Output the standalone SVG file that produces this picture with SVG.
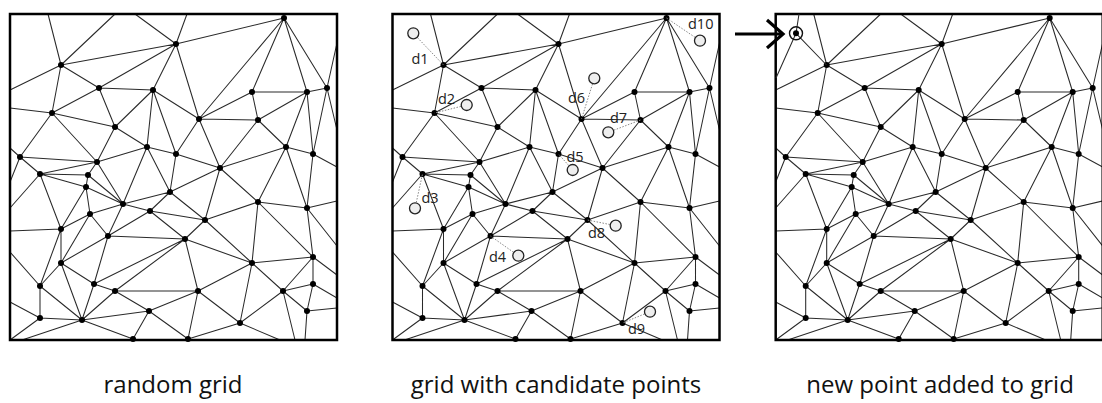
<svg xmlns="http://www.w3.org/2000/svg" width="1102" height="403" viewBox="0 0 1102 403">
<style>
.e{fill:none;stroke:#2a2a2a;stroke-width:1.05}
.fr{fill:none;stroke:#000;stroke-width:2.5}
.dt{fill:#000}
.cand{fill:#eee;stroke:#222;stroke-width:1.3}
.dot{stroke:#888;stroke-width:1;stroke-dasharray:1.5 1.5;fill:none}
.lb{font-family:"Open Sans","Liberation Sans",sans-serif;font-size:14.5px;fill:#222}
.cap{font-family:"Open Sans","Liberation Sans",sans-serif;font-size:24px;fill:#111;text-anchor:middle}
</style>
<defs>
<g id="grid">
<path class="e" d="M61 65L48 14M61 65L115 14M176 44L135 14M176 44L187 14M176 44L61 65M61 65L99 88M61 65L52 113M61 65L10 90M99 88L176 44M99 88L153 90M99 88L52 113M99 88L115 127M153 90L176 44M153 90L115 127M153 90L147 147M153 90L176 154M153 90L199 119M52 113L10 108M52 113L115 127M52 113L20 157M52 113L97 162M115 127L147 147M115 127L97 162M147 147L176 154M147 147L97 162M20 157L97 162M20 157L40 174M40 174L88 175M40 174L97 162M88 175L97 162M147 147L170 192M147 147L123 204M97 162L123 204M176 154L170 192M176 154L199 119M176 154L220 168M20 157L10 148M20 157L10 182M40 174L10 208M40 174L61 229M40 174L86 187M88 175L86 187M88 175L123 204M86 187L123 204M61 229L10 231M40 286L10 252M40 318L10 302M40 318L10 340M82 320L22 340M40 286L40 318M40 286L61 229M40 286L61 263M40 286L82 320M40 318L82 320M61 263L61 229M61 263L82 320M61 263L94 284M61 263L108 236M61 263L90 214M61 229L90 214M90 214L86 187M90 214L123 204M90 214L108 236M86 187L61 229M123 204L108 236M123 204L150 211M123 204L170 192M150 211L170 192M108 236L185 239M108 236L150 211M94 284L108 236M94 284L115 291M94 284L82 320M94 284L185 239M115 291L198 291M115 291L185 239M149 311L115 291M149 311L82 320M149 311L133 339M149 311L198 291M149 311L188 339M82 320L133 339M82 320L115 291M170 192L205 220M205 220L185 239M205 220L258 202M205 220L252 263M205 220L220 168M205 220L150 211M185 239L252 263M185 239L198 291M258 202L252 263M258 202L307 208M258 202L313 257M258 202L286 147M258 202L220 168M307 208L286 147M307 208L313 154M307 208L337 201M307 208L313 257M307 208L337 246M313 257L252 263M313 257L283 291M313 257L313 284M313 257L337 275M252 263L198 291M252 263L283 291M252 263L240 323M198 291L240 323M198 291L188 339M283 291L313 284M283 291L307 311M283 291L240 323M283 291L295 340M313 284L307 311M313 284L337 298M307 311L337 308M307 311L305 340M240 323L188 339M240 323L280 340M150 211L185 239M220 168L170 192M176 44L284 18M176 44L199 119M284 18L199 119M284 18L252 92M284 18L307 92M284 18L327 88M327 88L337 43M252 92L307 92M252 92L199 119M252 92L258 120M307 92L327 88M307 92L258 120M307 92L286 147M307 92L313 154M327 88L313 154M199 119L258 120M199 119L220 168M258 120L286 147M258 120L220 168M286 147L313 154M286 147L220 168M313 154L337 167M327 88L337 130"/>
<g class="dt">
<circle cx="284" cy="18" r="3"/><circle cx="176" cy="44" r="3"/><circle cx="61" cy="65" r="3"/><circle cx="99" cy="88" r="3"/><circle cx="153" cy="90" r="3"/><circle cx="252" cy="92" r="3"/><circle cx="307" cy="92" r="3"/><circle cx="327" cy="88" r="3"/><circle cx="52" cy="113" r="3"/><circle cx="199" cy="119" r="3"/><circle cx="258" cy="120" r="3"/><circle cx="115" cy="127" r="3"/><circle cx="147" cy="147" r="3"/><circle cx="286" cy="147" r="3"/><circle cx="176" cy="154" r="3"/><circle cx="313" cy="154" r="3"/><circle cx="20" cy="157" r="3"/><circle cx="97" cy="162" r="3"/><circle cx="220" cy="168" r="3"/><circle cx="40" cy="174" r="3"/><circle cx="88" cy="175" r="3"/><circle cx="86" cy="187" r="3"/><circle cx="170" cy="192" r="3"/><circle cx="258" cy="202" r="3"/><circle cx="123" cy="204" r="3"/><circle cx="307" cy="208" r="3"/><circle cx="150" cy="211" r="3"/><circle cx="90" cy="214" r="3"/><circle cx="205" cy="220" r="3"/><circle cx="61" cy="229" r="3"/><circle cx="108" cy="236" r="3"/><circle cx="185" cy="239" r="3"/><circle cx="313" cy="257" r="3"/><circle cx="61" cy="263" r="3"/><circle cx="252" cy="263" r="3"/><circle cx="94" cy="284" r="3"/><circle cx="313" cy="284" r="3"/><circle cx="40" cy="286" r="3"/><circle cx="115" cy="291" r="3"/><circle cx="198" cy="291" r="3"/><circle cx="283" cy="291" r="3"/><circle cx="149" cy="311" r="3"/><circle cx="307" cy="311" r="3"/><circle cx="40" cy="318" r="3"/><circle cx="82" cy="320" r="3"/><circle cx="240" cy="323" r="3"/><circle cx="133" cy="339" r="3"/><circle cx="188" cy="339" r="3"/>
</g>
<rect class="fr" x="10" y="14" width="327" height="326"/>
</g>
</defs>
<rect width="1102" height="403" fill="#fff"/>
<g id="panel1"><use href="#grid"/></g>
<g id="panel2">
<use href="#grid" x="382.5"/>
<g id="candidates">
<path class="dot" d="M413.3 33.3L443.5 65M466.7 105L434.5 113M700 40.7L666.5 18M594.3 78.3L581.5 119M608.3 132.3L640.5 120M572.7 170L558.5 154M415 208.3L422.5 174M518.3 255.7L490.5 236M615.7 225.7L587.5 220M650 311.7L622.5 323"/>
<circle class="cand" cx="413.3" cy="33.3" r="5.5"/><circle class="cand" cx="466.7" cy="105" r="5.5"/><circle class="cand" cx="700" cy="40.7" r="5.5"/><circle class="cand" cx="594.3" cy="78.3" r="5.5"/><circle class="cand" cx="608.3" cy="132.3" r="5.5"/><circle class="cand" cx="572.7" cy="170" r="5.5"/><circle class="cand" cx="415" cy="208.3" r="5.5"/><circle class="cand" cx="518.3" cy="255.7" r="5.5"/><circle class="cand" cx="615.7" cy="225.7" r="5.5"/><circle class="cand" cx="650" cy="311.7" r="5.5"/>
<text class="lb" x="411.5" y="64">d1</text>
<text class="lb" x="438" y="104">d2</text>
<text class="lb" x="421.5" y="203">d3</text>
<text class="lb" x="489" y="262">d4</text>
<text class="lb" x="566.5" y="162">d5</text>
<text class="lb" x="568" y="103">d6</text>
<text class="lb" x="610" y="123">d7</text>
<text class="lb" x="588" y="238">d8</text>
<text class="lb" x="628" y="334">d9</text>
<text class="lb" x="688" y="29">d10</text>
</g>
</g>
<g id="panel3">
<use href="#grid" x="765.7"/>
<path class="e" d="M796 33.3L826.5 65M796 33.3L799 14M796 33.3L776 78"/>
<circle cx="796" cy="33.3" r="3" fill="#000"/>
<circle cx="796" cy="33.3" r="6.5" fill="none" stroke="#111" stroke-width="1.4"/>
</g>
<g id="arrow" fill="none" stroke="#000" stroke-width="3.2">
<path d="M735 34H782"/>
<path d="M767 20L783 34L767 48"/>
</g>
<g id="captions">
<text class="cap" x="173" y="393">random grid</text>
<text class="cap" x="556" y="393">grid with candidate points</text>
<text class="cap" x="940" y="393">new point added to grid</text>
</g>
</svg>
